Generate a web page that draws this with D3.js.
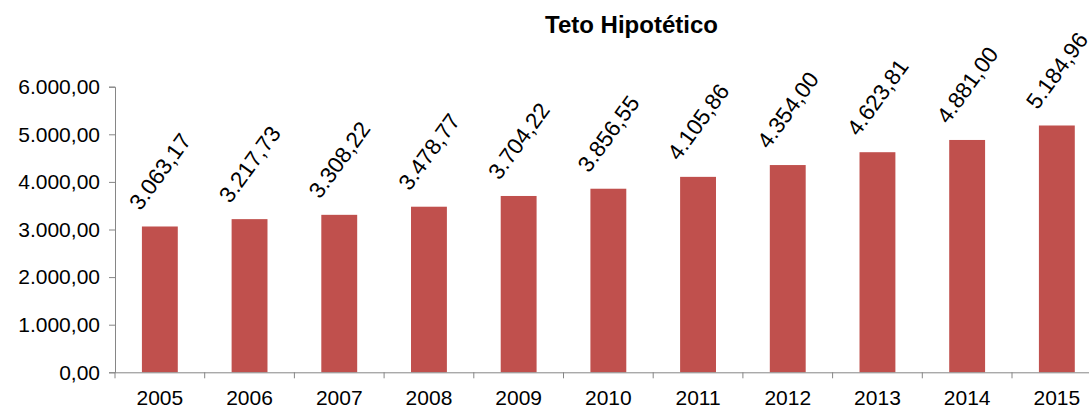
<!DOCTYPE html>
<html>
<head>
<meta charset="utf-8">
<script src="https://cdn.jsdelivr.net/npm/d3@7"></script>
<style>
  body { margin: 0; background: #fff; }
  svg { display: block; font-family: "Liberation Sans", Arial, sans-serif; }
</style>
</head>
<body>
<div id="chart"></div>
<script>
// dados do gráfico
const anos = ["2005", "2006", "2007", "2008", "2009", "2010", "2011", "2012", "2013", "2014", "2015"];
const valores = [3063.17, 3217.73, 3308.22, 3478.77, 3704.22, 3856.55, 4105.86, 4354.00, 4623.81, 4881.00, 5184.96];
const yTicks = [0, 1000, 2000, 3000, 4000, 5000, 6000];
const titulo = "Teto Hipotético";

const width = 1089, height = 408;
const margin = { top: 86.7, right: -12.7, bottom: 35.7, left: 115 };
const fs = 21;
const angulo = 54;

// formato brasileiro 1.234,56
const fmt = d3.formatLocale({ decimal: ",", thousands: ".", grouping: [3], currency: ["R$", ""] }).format(",.2f");

const svg = d3.select("#chart")
  .append("svg")
  .attr("width", width)
  .attr("height", height);

const x = d3.scaleBand()
  .domain(anos)
  .range([margin.left, width - margin.right])
  .paddingInner(0.6)
  .paddingOuter(0.3);

const y = d3.scaleLinear()
  .domain([0, 6000])
  .range([height - margin.bottom, margin.top]);

// título
svg.append("text")
  .attr("x", 631.5)
  .attr("y", 33)
  .attr("text-anchor", "middle")
  .attr("font-size", 24)
  .attr("font-weight", "bold")
  .attr("fill", "#000")
  .text(titulo);

// barras
svg.selectAll("rect.bar")
  .data(valores)
  .enter().append("rect")
  .attr("class", "bar")
  .attr("x", (d, i) => x(anos[i]))
  .attr("y", d => y(d))
  .attr("width", x.bandwidth())
  .attr("height", d => y(0) - y(d))
  .attr("fill", "#C0504D");

// eixo Y
const yAxis = svg.append("g")
  .attr("transform", `translate(${margin.left},0)`)
  .call(d3.axisLeft(y).tickValues(yTicks).tickFormat(fmt).tickSize(6).tickPadding(9));
yAxis.select(".domain").attr("stroke", "#868686");
yAxis.selectAll(".tick line").attr("stroke", "#868686");
yAxis.selectAll(".tick text").attr("font-size", fs).attr("fill", "#000").attr("font-family", "Liberation Sans, Arial, sans-serif");

// eixo X (marcas entre categorias)
const step = x.step();
const xAxis = svg.append("g")
  .attr("transform", `translate(0,${y(0)})`)
  .call(d3.axisBottom(x).tickSize(0).tickPadding(18));
xAxis.select(".domain").attr("stroke", "#868686");
xAxis.selectAll(".tick text").attr("font-size", fs).attr("fill", "#000").attr("font-family", "Liberation Sans, Arial, sans-serif");
xAxis.selectAll("line.sep")
  .data(d3.range(anos.length + 1))
  .enter().append("line")
  .attr("class", "sep")
  .attr("x1", i => margin.left + i * step)
  .attr("x2", i => margin.left + i * step)
  .attr("y1", 0)
  .attr("y2", 6)
  .attr("stroke", "#868686");

// rótulos de valor rotacionados
const rad = angulo * Math.PI / 180;
svg.selectAll("text.lbl")
  .data(valores)
  .enter().append("text")
  .attr("class", "lbl")
  .attr("font-size", 22.5)
  .attr("fill", "#000")
  .text(d => fmt(d))
  .each(function (d, i) {
    const L = this.getComputedTextLength();
    const h = 16;
    const cx = x(anos[i]) + x.bandwidth() / 2;
    const x0 = cx - (L * Math.cos(rad) - h * Math.sin(rad)) / 2;
    const y0 = y(d) - 15;
    d3.select(this).attr("transform", `translate(${x0},${y0}) rotate(${-angulo})`);
  });
</script>
</body>
</html>
